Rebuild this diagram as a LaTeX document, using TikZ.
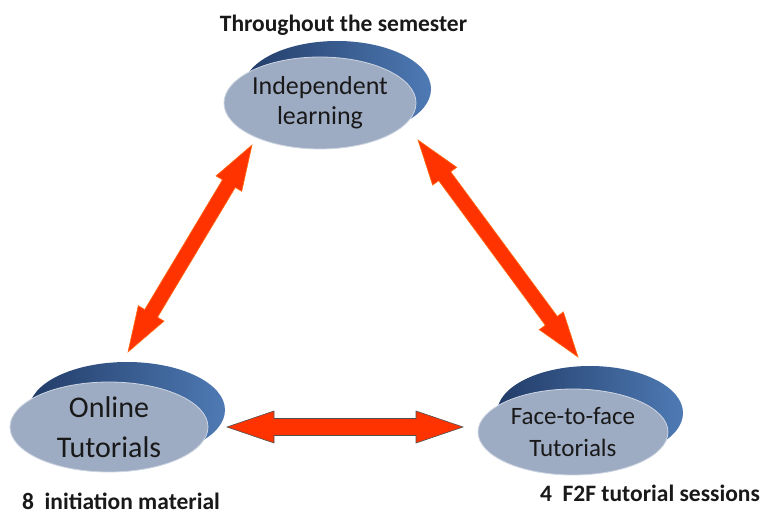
\documentclass[tikz,border=0pt]{standalone}
\usepackage{fontspec}
\setmainfont{Carlito}
\usetikzlibrary{shapes.geometric,calc}
\definecolor{darkA}{RGB}{34,60,104}
\definecolor{darkB}{RGB}{78,122,180}
\definecolor{lightell}{RGB}{158,172,195}
\definecolor{lightedge}{RGB}{205,213,226}
\definecolor{arrfill}{RGB}{255,51,0}
\definecolor{arredgeA}{RGB}{80,80,80}
\definecolor{arredgeB}{RGB}{255,110,20}
\definecolor{txtc}{RGB}{25,25,25}
\tikzset{
  backell/.style={ellipse, inner sep=0pt, left color=darkA, right color=darkB, draw=none},
  frontell/.style={ellipse, inner sep=0pt, fill=lightell, draw=lightedge, line width=0.8pt, text=txtc, align=center},
  caption/.style={font=\bfseries\fontsize{23.5}{26}\selectfont, text=txtc, anchor=base, inner sep=0pt},
  blockarr/.style={fill=arrfill, draw=arredgeB, line width=0.6pt, line join=miter},
}
% double-headed block arrow from #2 to #3; #4 head length, #5 head half width, #6 shaft half width
\newcommand\blockarrow[6][]{%
  \draw[blockarr,#1] let \p1=(#2), \p2=(#3), \n1={atan2(\y2-\y1,\x2-\x1)}, \n2={veclen(\x2-\x1,\y2-\y1)} in
    ([shift={(\p1)},rotate=\n1]0pt,0pt)
    -- ([shift={(\p1)},rotate=\n1]#4pt,#5pt)
    -- ([shift={(\p1)},rotate=\n1]#4pt,#6pt)
    -- ([shift={(\p1)},rotate=\n1]{\n2-#4pt},#6pt)
    -- ([shift={(\p1)},rotate=\n1]{\n2-#4pt},#5pt)
    -- ([shift={(\p1)},rotate=\n1]{\n2},0pt)
    -- ([shift={(\p1)},rotate=\n1]{\n2-#4pt},-#5pt)
    -- ([shift={(\p1)},rotate=\n1]{\n2-#4pt},-#6pt)
    -- ([shift={(\p1)},rotate=\n1]#4pt,-#6pt)
    -- ([shift={(\p1)},rotate=\n1]#4pt,-#5pt)
    -- cycle;}
\begin{document}
\begin{tikzpicture}[x=1pt,y=-1pt]
\useasboundingbox (0,0) rectangle (763,515);
\clip (0,0) rectangle (763,515);
\fill[white] (0,0) rectangle (763,515);

% top ellipse
\node[backell, minimum width=188pt, minimum height=96pt] (ILback) at (337,89) {};
\node[frontell, minimum width=190pt, minimum height=92pt, font=\fontsize{26}{30}\selectfont] (IL) at (320,103) {Independent\\learning};

% online ellipse
\node[backell, minimum width=196pt, minimum height=96pt] (OTback) at (127,410) {};
\node[frontell, minimum width=198pt, minimum height=90pt, font=\fontsize{30}{40}\selectfont] (OT) at (109,427) {Online\\Tutorials};

% face-to-face ellipse
\node[backell, minimum width=186pt, minimum height=94pt] (FFback) at (590,413) {};
\node[frontell, minimum width=190pt, minimum height=86pt, font=\fontsize{25}{32}\selectfont] (FF) at (573,432) {Face-to-face\\Tutorials};

% captions
\node[caption] (capIL) at (343.5,31) {Throughout the semester};
\node[caption, text depth=0pt] (capOT) at (121,509) {8~ initiation material};
\node[caption] (capFF) at (650,501) {4~ F2F tutorial sessions};

% arrow end points
\coordinate (h1) at (227,427);
\coordinate (h2) at (463,427);
\coordinate (l1) at (128,352);
\coordinate (l2) at (252,145);
\coordinate (r1) at (418,140);
\coordinate (r2) at (578,357);

\blockarrow[draw=arredgeA]{h1}{h2}{47}{16}{8.5}
\blockarrow{l1}{l2}{45}{15}{7.5}
\blockarrow{r1}{r2}{45}{15}{7.5}
\end{tikzpicture}
\end{document}
